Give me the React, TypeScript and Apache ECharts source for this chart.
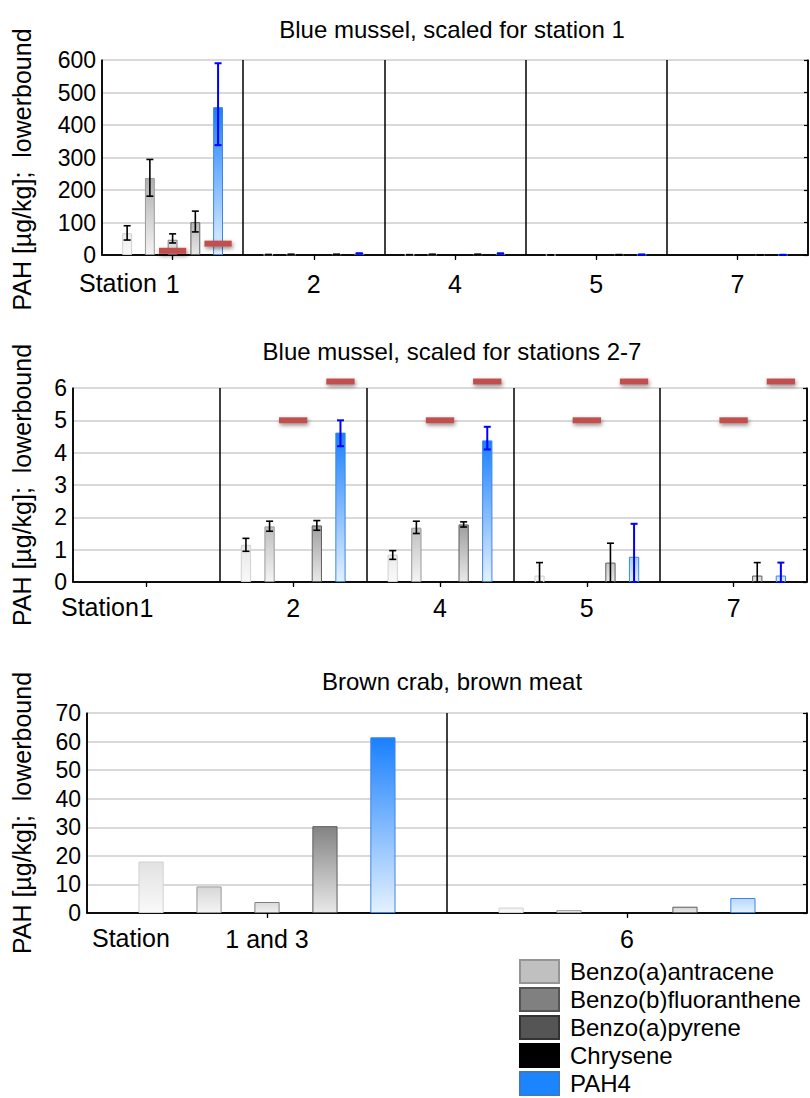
import React, { useEffect, useRef } from "react";
import * as echarts from "echarts";

// ---------- data ----------
const compounds = ["Benzo(a)antracene", "Benzo(b)fluoranthene", "Benzo(a)pyrene", "Chrysene", "PAH4"];
const musselStations = ["1", "2", "4", "5", "7"];
const crabStations = ["1 and 3", "6"];

// Blue mussel, per compound, stations 1, 2, 4, 5, 7
const musselBaA = [67, 1.15, 0.85, 0.2, null];
const musselBbF = [237, 1.72, 1.68, null, null];
const musselBaP = [47, null, null, null, null];
const musselChr = [101, 1.75, 1.78, 0.6, 0.2];
const musselPAH4 = [455, 4.62, 4.38, 0.78, 0.2];

// error-bar ranges (low / high)
const musselBaALow = [46, 0.95, 0.7, 0, null];
const musselBaAHigh = [90, 1.35, 0.97, 0.6, null];
const musselBbFLow = [181, 1.57, 1.5, null, null];
const musselBbFHigh = [294, 1.88, 1.88, null, null];
const musselBaPLow = [37, null, null, null, null];
const musselBaPHigh = [65, null, null, null, null];
const musselChrLow = [71, 1.6, 1.7, 0, 0];
const musselChrHigh = [135, 1.9, 1.86, 1.2, 0.6];
const musselPAH4Low = [338, 4.2, 4.1, 0, 0];
const musselPAH4High = [590, 5.0, 4.8, 1.8, 0.6];

// stations shown in the "scaled for stations 2-7" panel
const midShown = [false, true, true, true, true];

// red limit marks: [station index, compound index, value]
const topLimits = [[0, 2, 13], [0, 4, 35]];
const midLimits = [
  [1, 2, 5], [1, 4, 6.2],
  [2, 2, 5], [2, 4, 6.2],
  [3, 2, 5], [3, 4, 6.2],
  [4, 2, 5], [4, 4, 6.2],
];

// Brown crab, brown meat, stations "1 and 3", "6"
const crabBaA = [18, 1.9];
const crabBbF = [9.3, 1.0];
const crabBaP = [3.85, null];
const crabChr = [30.4, 2.2];
const crabPAH4 = [61.5, 5.25];

// axis ranges
const topAxis = { min: 0, max: 600, interval: 100 };
const midAxis = { min: 0, max: 6, interval: 1 };
const crabAxis = { min: 0, max: 70, interval: 10 };

// ---------- styling ----------
const FONT = "'Liberation Sans', Arial, Helvetica, sans-serif";
const BAR_W = 0.07;
const BAR_GAP = 1.3;

const SERIES_STYLE = [
  { light: [249, 249, 249], dark: [205, 205, 205], border: "#d2d2d2" },
  { light: [244, 244, 244], dark: [150, 150, 150], border: "#9a9a9a" },
  { light: [240, 240, 240], dark: [125, 125, 125], border: "#808080" },
  { light: [232, 232, 232], dark: [105, 105, 105], border: "#5e5e5e" },
  { light: [228, 241, 255], dark: [26, 128, 255], border: "#3d86e6" },
];
const LEGEND_STYLE = [
  { color: "#c0c0c0", borderColor: "#959595" },
  { color: "#808080", borderColor: "#555555" },
  { color: "#555555", borderColor: "#333333" },
  { color: "#000000", borderColor: "#000000" },
  { color: "#1a85ff", borderColor: "#3a78c8" },
];

function mix(a: number[], b: number[], t: number) {
  const c = a.map((v, i) => Math.round(v + (b[i] - v) * t));
  return `rgb(${c[0]},${c[1]},${c[2]})`;
}

function barData(values: (number | null)[], si: number, max: number, shown?: boolean[]) {
  const st = SERIES_STYLE[si];
  return values.map((v, i) => {
    if (v == null || (shown && !shown[i])) return "-";
    const t = Math.min(1, 0.1 + 1.6 * (v / max));
    return {
      value: v,
      itemStyle: {
        color: new echarts.graphic.LinearGradient(0, 0, 0, 1, [
          { offset: 0, color: mix(st.light, st.dark, t) },
          { offset: 1, color: mix(st.light, st.light, 0) },
        ]),
        borderColor: st.border,
        borderWidth: 1,
      },
    };
  });
}

function errRender(params: any, api: any) {
  const cat = api.value(0);
  const si = api.value(1);
  const lo = api.value(2);
  const hi = api.value(3);
  const pHi = api.coord([cat, hi]);
  const pLo = api.coord([cat, lo]);
  const band = api.size([1, 0])[0];
  const w = band * BAR_W;
  const x = pHi[0] + (si - 2) * w * (1 + BAR_GAP);
  const cap = 3.5;
  const color = si === 4 ? "#0000ff" : "#000000";
  const style = { stroke: color, lineWidth: si === 4 ? 2 : 1.6, fill: null };
  return {
    type: "group",
    children: [
      { type: "line", shape: { x1: x, y1: pHi[1], x2: x, y2: pLo[1] }, style },
      { type: "line", shape: { x1: x - cap, y1: pHi[1], x2: x + cap, y2: pHi[1] }, style },
      { type: "line", shape: { x1: x - cap, y1: pLo[1], x2: x + cap, y2: pLo[1] }, style },
    ],
  };
}

function limitRender(params: any, api: any) {
  const cat = api.value(0);
  const si = api.value(1);
  const v = api.value(2);
  const p = api.coord([cat, v]);
  const band = api.size([1, 0])[0];
  const sp = band * BAR_W * (1 + BAR_GAP);
  const x = p[0] + (si - 2) * sp;
  const len = sp * 1.2;
  return {
    type: "rect",
    shape: { x: x - len / 2, y: p[1] - 3, width: len, height: 6 },
    style: {
      fill: "#c0504d",
      shadowBlur: 4,
      shadowColor: "rgba(0,0,0,0.45)",
      shadowOffsetX: 1,
      shadowOffsetY: 2,
    },
  };
}

function errData(lows: (number | null)[][], highs: (number | null)[][], shown?: boolean[]) {
  const out: number[][] = [];
  lows.forEach((arr, si) => {
    arr.forEach((lo, ci) => {
      const hi = highs[si][ci];
      if (lo == null || hi == null) return;
      if (shown && !shown[ci]) return;
      out.push([ci, si, lo, hi]);
    });
  });
  return out;
}

export default function App() {
  const ref = useRef<HTMLDivElement>(null);

  useEffect(() => {
    document.body.style.margin = "0";
    if (!ref.current) return;
    const chart = echarts.init(ref.current, null, { renderer: "svg" });

    const grids = [
      { left: 102, top: 60, width: 706, height: 195 },
      { left: 73, top: 388, width: 734, height: 194 },
      { left: 87, top: 713, width: 720, height: 200 },
    ];
    const cats = [musselStations, musselStations, crabStations];
    const ranges = [topAxis, midAxis, crabAxis];
    const labelMargins = [16, 13, 13];
    const nameGaps = [68, 39, 53];
    const namePads = [[0, 24, 0, 0], [0, 0, 0, 0], [0, 0, 0, 0]];

    const xAxis: any[] = [];
    const yAxis: any[] = [];
    grids.forEach((g, gi) => {
      xAxis.push({
        type: "category",
        gridIndex: gi,
        data: cats[gi],
        position: "bottom",
        axisLine: { show: true, lineStyle: { color: "#000", width: 1.5 } },
        axisTick: { show: true, alignWithLabel: true, length: 5, lineStyle: { color: "#000", width: 1.2 } },
        axisLabel: { color: "#000", fontSize: 25, fontFamily: FONT, margin: labelMargins[gi] },
        splitLine: { show: true, interval: 0, lineStyle: { color: "#000", width: 1.5 } },
      });
      xAxis.push({
        type: "category",
        gridIndex: gi,
        data: cats[gi],
        position: "top",
        axisLine: { show: true, lineStyle: { color: "#000", width: 1.5 } },
        axisTick: { show: true, inside: true, alignWithLabel: true, length: 4, lineStyle: { color: "#000", width: 1.2 } },
        axisLabel: { show: false },
        splitLine: { show: false },
      });
      yAxis.push({
        type: "value",
        gridIndex: gi,
        position: "left",
        min: ranges[gi].min,
        max: ranges[gi].max,
        interval: ranges[gi].interval,
        name: "PAH [µg/kg];  lowerbound",
        nameLocation: "middle",
        nameGap: nameGaps[gi],
        nameTextStyle: { color: "#000", fontSize: 25, fontFamily: FONT, padding: namePads[gi] },
        axisLine: { show: true, lineStyle: { color: "#000", width: 1.5 } },
        axisTick: { show: false },
        axisLabel: { color: "#000", fontSize: 23, fontFamily: FONT, margin: 6 },
        splitLine: { show: true, lineStyle: { color: "#d9d9d9", width: 2 } },
      });
      yAxis.push({
        type: "value",
        gridIndex: gi,
        position: "right",
        min: ranges[gi].min,
        max: ranges[gi].max,
        interval: ranges[gi].interval,
        axisLine: { show: true, lineStyle: { color: "#000", width: 1.5 } },
        axisTick: { show: true, inside: true, length: 4, lineStyle: { color: "#000", width: 1.2 } },
        axisLabel: { show: false },
        splitLine: { show: false },
      });
    });

    const musselSets = [musselBaA, musselBbF, musselBaP, musselChr, musselPAH4];
    const musselLows = [musselBaALow, musselBbFLow, musselBaPLow, musselChrLow, musselPAH4Low];
    const musselHighs = [musselBaAHigh, musselBbFHigh, musselBaPHigh, musselChrHigh, musselPAH4High];
    const crabSets = [crabBaA, crabBbF, crabBaP, crabChr, crabPAH4];

    const series: any[] = [];
    const addBars = (gi: number, sets: (number | null)[][], max: number, shown?: boolean[]) => {
      sets.forEach((vals, si) => {
        series.push({
          type: "bar",
          name: compounds[si],
          xAxisIndex: gi * 2,
          yAxisIndex: gi * 2,
          barWidth: `${BAR_W * 100}%`,
          barGap: `${BAR_GAP * 100}%`,
          data: barData(vals, si, max, shown),
          z: 2,
        });
      });
    };
    addBars(0, musselSets, topAxis.max);
    addBars(1, musselSets, midAxis.max, midShown);
    addBars(2, crabSets, crabAxis.max);

    series.push({
      type: "custom",
      name: "err-top",
      xAxisIndex: 0,
      yAxisIndex: 0,
      renderItem: errRender,
      data: errData(musselLows, musselHighs),
      z: 5,
    });
    series.push({
      type: "custom",
      name: "err-mid",
      xAxisIndex: 2,
      yAxisIndex: 2,
      renderItem: errRender,
      data: errData(musselLows, musselHighs, midShown),
      z: 5,
    });
    series.push({
      type: "custom",
      name: "limit-top",
      xAxisIndex: 0,
      yAxisIndex: 0,
      renderItem: limitRender,
      data: topLimits,
      z: 6,
    });
    series.push({
      type: "custom",
      name: "limit-mid",
      xAxisIndex: 2,
      yAxisIndex: 2,
      renderItem: limitRender,
      data: midLimits,
      clip: false,
      z: 6,
    });

    const titleStyle = { color: "#000", fontSize: 24, fontWeight: "normal", fontFamily: FONT };
    const stationStyle = { fill: "#000", fontSize: 25, fontFamily: FONT, text: "Station" };

    chart.setOption({
      animation: false,
      backgroundColor: "#fff",
      title: [
        { text: "Blue mussel, scaled for station 1", left: 452, top: 17, textAlign: "center", textStyle: titleStyle, padding: 0 },
        { text: "Blue mussel, scaled for stations 2-7", left: 452, top: 339, textAlign: "center", textStyle: titleStyle, padding: 0 },
        { text: "Brown crab, brown meat", left: 452, top: 669, textAlign: "center", textStyle: titleStyle, padding: 0 },
      ],
      grid: grids,
      xAxis,
      yAxis,
      series,
      legend: {
        orient: "vertical",
        left: 519,
        top: 959,
        height: 139,
        padding: 0,
        icon: "rect",
        itemWidth: 39,
        itemHeight: 23,
        itemGap: 3,
        selectedMode: false,
        textStyle: { color: "#000", fontSize: 24, lineHeight: 23, fontFamily: FONT, padding: [0, 0, 0, 6] },
        data: compounds.map((c, i) => ({
          name: c,
          itemStyle: { color: LEGEND_STYLE[i].color, borderColor: LEGEND_STYLE[i].borderColor, borderWidth: 2 },
        })),
      },
      graphic: [
        { type: "text", left: 79, top: 270, style: stationStyle },
        { type: "text", left: 61, top: 594, style: stationStyle },
        { type: "text", left: 92, top: 925, style: stationStyle },
      ],
    });

    return () => chart.dispose();
  }, []);

  return <div ref={ref} style={{ width: 810, height: 1098 }} />;
}
